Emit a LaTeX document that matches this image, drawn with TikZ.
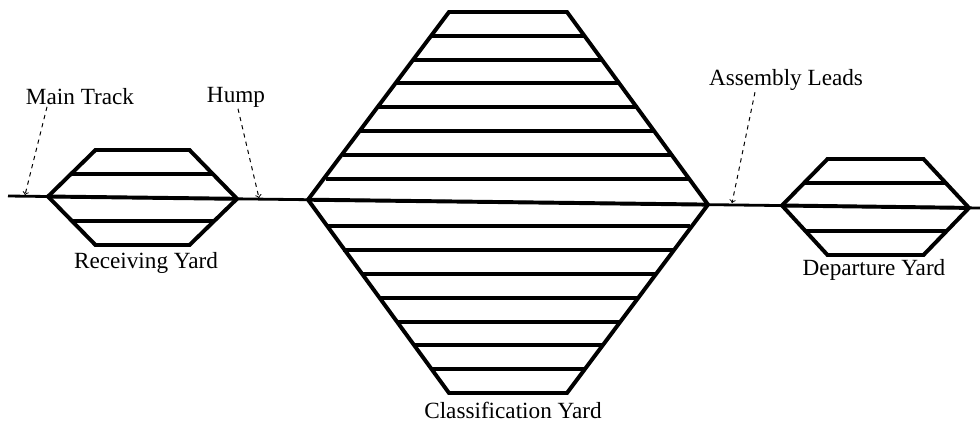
\documentclass[tikz,border=0pt]{standalone}
\usepackage{fontspec}
\setmainfont{Liberation Serif}
\usepackage{tikz}

\begin{document}
\begin{tikzpicture}[x=0.025cm, y=-0.025cm,
  every node/.style={font=\fontsize{16.5}{19}\selectfont, inner sep=1pt},
  yard/.style={line width=2.8pt, line join=miter},
  mainline/.style={line width=2pt},
  lead/.style={->, dashed, line width=0.7pt}]
  \useasboundingbox (0,0) rectangle (980,423);
  % main track
  \draw[mainline] (8,196) -- (980,208);
  % receiving yard
  \draw[yard] (48,196.5) -- (95.5,150) -- (189.5,150) -- (237,198.8) -- (189.5,245) -- (95.5,245) -- cycle;
  \draw[yard] (48,196.5) -- (237,198.8);
  \draw[yard] (71.75,173.75) -- (213.25,173.75);
  \draw[yard] (71.75,221.25) -- (213.25,221.25);
  % classification yard
  \draw[yard] (308,199.7) -- (449,12) -- (567,12) -- (708,204.6) -- (567,393) -- (449,393) -- cycle;
  \draw[yard] (308,199.7) -- (708,204.6);
  \draw[yard] (325.6,178.7) -- (690.4,178.7);
  \draw[yard] (343.25,154.9) -- (672.75,154.9);
  \draw[yard] (360.9,131.1) -- (655.1,131.1);
  \draw[yard] (378.5,107.25) -- (637.5,107.25);
  \draw[yard] (396.1,83.4) -- (619.9,83.4);
  \draw[yard] (413.75,59.6) -- (602.25,59.6);
  \draw[yard] (431.4,35.8) -- (584.6,35.8);
  \draw[yard] (325.6,226.3) -- (690.4,226.3);
  \draw[yard] (343.25,250.1) -- (672.75,250.1);
  \draw[yard] (360.9,273.9) -- (655.1,273.9);
  \draw[yard] (378.5,297.75) -- (637.5,297.75);
  \draw[yard] (396.1,321.6) -- (619.9,321.6);
  \draw[yard] (413.75,345.4) -- (602.25,345.4);
  \draw[yard] (431.4,369.2) -- (584.6,369.2);
  % departure yard
  \draw[yard] (782,205.5) -- (827.5,159) -- (923.5,159) -- (969,207.9) -- (923.5,255) -- (827.5,255) -- cycle;
  \draw[yard] (782,205.5) -- (969,207.9);
  \draw[yard] (804.75,183) -- (946.25,183);
  \draw[yard] (804.75,231) -- (946.25,231);
  % labels
  \node (mainlbl) at (80,97) {Main Track};
  \node (humplbl) at (236,97) {Hump};
  \node (asmlbl) at (786,80) {Assembly Leads};
  \node (recvlbl) at (146,263) {Receiving Yard};
  \node (clslbl) at (513,410) {Classification Yard};
  \node (deplbl) at (874,270) {Departure Yard};
  \coordinate (mainpt) at (25,195);
  \coordinate (humppt) at (259,198);
  \coordinate (asmpt) at (732,203);
  \draw[lead] ([xshift=-0.825cm]mainlbl.south) -- (mainpt);
  \draw[lead] ([xshift=0.05cm]humplbl.south) -- (humppt);
  \draw[lead] ([xshift=-0.775cm]asmlbl.south) -- (asmpt);
\end{tikzpicture}
\end{document}
